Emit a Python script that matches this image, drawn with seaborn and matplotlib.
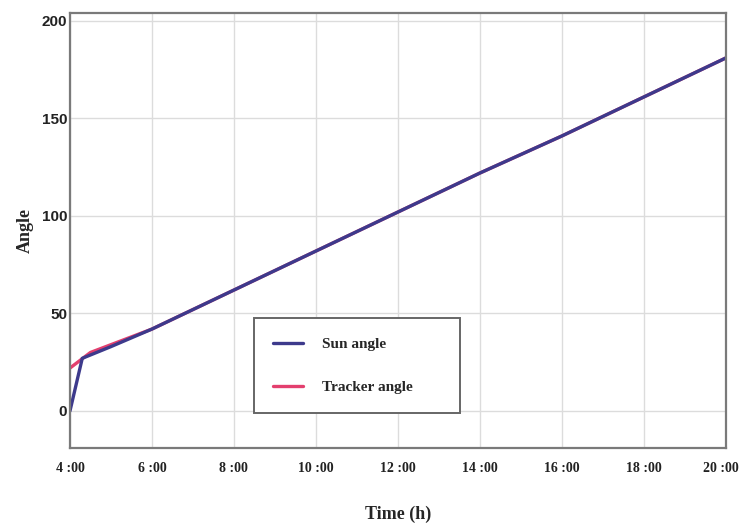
import matplotlib

matplotlib.use("Agg")
import matplotlib.pyplot as plt
import matplotlib.transforms as mtransforms
import pandas as pd
import seaborn as sns

# values
sun_hours = [4.0, 4.3, 5.0, 6.0, 8.0, 10.0, 12.0, 14.0, 16.0, 18.0, 20.0]
sun_angle = [0, 27, 33, 42, 62, 82, 102, 122, 141, 161, 181]
tracker_hours = [4.0, 4.5, 5.0, 6.0, 8.0, 10.0, 12.0, 14.0, 16.0, 18.0, 20.0]
tracker_angle = [22, 30, 34, 42, 62, 82, 102, 122, 141, 161, 181]
x_ticks = [4, 6, 8, 10, 12, 14, 16, 18, 20]
x_labels = ["4 :00", "6 :00", "8 :00", "10 :00", "12 :00", "14 :00", "16 :00", "18 :00", "20 :00"]
y_ticks = [0, 50, 100, 150, 200]

df = pd.concat([
    pd.DataFrame({"hour": tracker_hours, "angle": tracker_angle, "series": "Tracker angle"}),
    pd.DataFrame({"hour": sun_hours, "angle": sun_angle, "series": "Sun angle"}),
])

sns.set_theme(style="whitegrid")
plt.rcParams["font.family"] = ["Liberation Serif", "DejaVu Serif"]

fig = plt.figure(figsize=(7.42, 5.28), dpi=100)
ax = fig.add_axes([0.0943, 0.1515, 0.8837, 0.8235])

palette = {"Sun angle": "#3d3a8c", "Tracker angle": "#e33f6e"}
sns.lineplot(data=df, x="hour", y="angle", hue="series", palette=palette,
             hue_order=["Tracker angle", "Sun angle"], linewidth=2.4, ax=ax,
             sort=False, estimator=None)

ax.set_xlim(4, 20)
ax.set_ylim(-19, 204)
ax.set_xticks(x_ticks)
ax.set_xticklabels(x_labels, fontsize=10, fontweight="bold")
ax.set_yticks(y_ticks)
ax.set_yticklabels([str(v) for v in y_ticks], fontsize=11, fontweight="bold",
                   family=["Liberation Sans", "DejaVu Sans"])
ax.tick_params(axis="x", pad=10, length=0, colors="#222222")
ax.tick_params(axis="y", pad=2, length=0, colors="#222222")
ax.grid(True, color="#dcdcdc", linewidth=1)
for s in ax.spines.values():
    s.set_color("#7a7a7a")
    s.set_linewidth(1.6)

# nudge the last x label so it stays inside the figure
last = ax.get_xticklabels()[-1]
last.set_transform(last.get_transform() + mtransforms.ScaledTranslation(-5 / 100, 0, fig.dpi_scale_trans))

ax.set_xlabel("Time (h)", fontsize=13, fontweight="bold", labelpad=22)
ax.set_ylabel("Angle", fontsize=13, fontweight="bold", labelpad=6)

handles, labels = ax.get_legend_handles_labels()
order = [labels.index("Sun angle"), labels.index("Tracker angle")]
leg = ax.legend([handles[i] for i in order], [labels[i] for i in order],
                loc="lower left", bbox_to_anchor=(0.2805, 0.08, 0.314, 0.22),
                mode="expand", borderaxespad=0, fancybox=False, framealpha=1,
                edgecolor="#666666", prop={"weight": "bold", "size": 11},
                handlelength=2.0, labelspacing=1.95, borderpad=1.23,
                handletextpad=1.2)
leg.get_frame().set_linewidth(1.4)

fig.savefig("out.png", dpi=100)
